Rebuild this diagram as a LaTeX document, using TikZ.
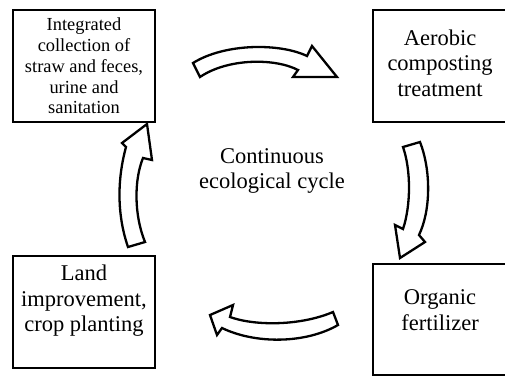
\documentclass[tikz,border=0pt]{standalone}
\usepackage{fontspec}
\setmainfont{Liberation Serif}
\begin{document}
\begin{tikzpicture}[x=1pt,y=-1pt,
  box/.style={draw=black,line width=2.8pt,fill=white,rectangle,inner sep=0pt},
  bigtxt/.style={align=center,inner sep=0pt,font=\fontsize{22.5}{25.5}\selectfont},
  smalltxt/.style={align=center,inner sep=0pt,font=\fontsize{18.4}{20.8}\selectfont},
  blockarrow/.style={draw=black,line width=2.3pt,fill=white,line join=miter}]
\useasboundingbox (0,0) rectangle (505,376);
\begin{scope}
\clip (0,0) rectangle (505,376);
% boxes
\node[box,minimum width=142pt,minimum height=112pt] (tlbox) at (84,66) {};
\node[box,minimum width=142pt,minimum height=112pt] (trbox) at (444,66) {};
\node[box,minimum width=142pt,minimum height=112pt] (blbox) at (84,312) {};
\node[box,minimum width=142pt,minimum height=111pt] (brbox) at (444,319.5) {};
\end{scope}
\node[smalltxt] (tltext) at (84,66) {Integrated\\collection of\\straw and feces,\\urine and\\sanitation};
\node[bigtxt] (trtext) at (440,63) {Aerobic\\composting\\treatment};
\node[bigtxt] (bltext) at (84,301) {Land\\improvement,\\crop planting};
\node[bigtxt] (brtext) at (440,310) {Organic\\fertilizer};
\node[bigtxt] (center) at (272,171) {Continuous\\ecological cycle};
% top arrow (right)
\draw[blockarrow] (193,63) .. controls (225,43) and (280,43) .. (307,56)
  -- (312,46) -- (337,77) -- (293,77) -- (298,70)
  .. controls (275,58) and (228,58) .. (200,77) -- cycle;
% right arrow (down)
\draw[blockarrow] (403,147) .. controls (411,170) and (411,205) .. (403,229)
  -- (395,225) -- (400,258) -- (425,242) -- (419,235)
  .. controls (431,210) and (431,170) .. (420,142) -- cycle;
% bottom arrow (left)
\draw[blockarrow] (333,312) .. controls (300,326) and (255,326) .. (230,317)
  -- (233,305) -- (210,315) -- (217,335) -- (222,328)
  .. controls (255,344) and (305,344) .. (338,325) -- cycle;
% left arrow (up)
\draw[blockarrow] (128,247) .. controls (117,215) and (117,180) .. (126,147)
  -- (122,143) -- (147,124) -- (152,160) -- (143,158)
  .. controls (134,180) and (134,215) .. (145,242) -- cycle;
\end{tikzpicture}
\end{document}
